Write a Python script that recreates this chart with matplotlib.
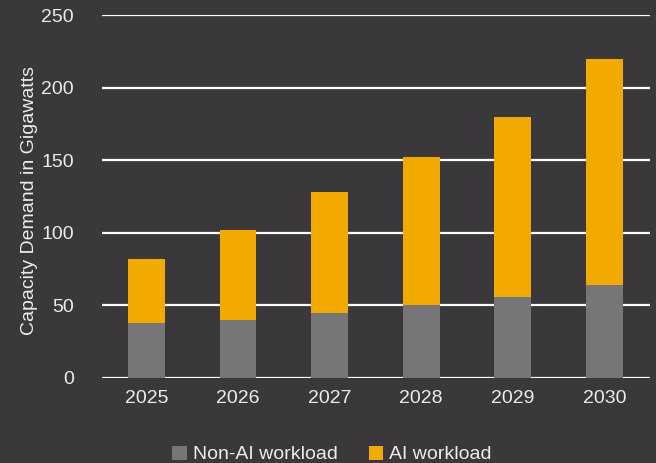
import matplotlib.pyplot as plt
import numpy as np

years = ['2025', '2026', '2027', '2028', '2029', '2030']
non_ai = [38, 40, 45, 50, 56, 64]
ai = [44, 62, 83, 102, 124, 156]

bg = '#3a383b'
txt = '#ececec'

plt.rcParams['font.family'] = ['Liberation Sans', 'DejaVu Sans']

fig = plt.figure(figsize=(6.56, 4.63), dpi=100, facecolor=bg)
ax = fig.add_axes([0.155, 0.1836, 0.836, 0.784])
ax.set_facecolor(bg)

x = np.arange(len(years))
ax.bar(x, non_ai, width=0.4, color='#777578', label='Non-AI workload', zorder=3)
ax.bar(x, ai, width=0.4, bottom=non_ai, color='#f2a900', label='AI workload', zorder=3)

ax.set_ylim(0, 250)
ax.set_xlim(-0.49, 5.5)
ax.set_yticks(range(0, 251, 50))
ax.set_xticks(x)
ax.set_xticklabels(years)
ax.yaxis.grid(True, color='white', linewidth=1.6, zorder=0)
ax.tick_params(length=0, colors=txt, labelsize=14, pad=9)
ax.tick_params(axis='y', pad=20)
for s in ax.spines.values():
    s.set_visible(False)

ax.set_ylabel('Capacity Demand in Gigawatts', color=txt, fontsize=14)
ax.yaxis.set_label_coords(-0.117, 0.49)

leg = ax.legend(loc='upper center', bbox_to_anchor=(0.42, -0.138), ncol=2, frameon=False,
                fontsize=14, handlelength=0.75, handleheight=0.75, handletextpad=0.3,
                columnspacing=1.6)
for t in leg.get_texts():
    t.set_color(txt)

fig.savefig('out.png', dpi=100, facecolor=bg)
